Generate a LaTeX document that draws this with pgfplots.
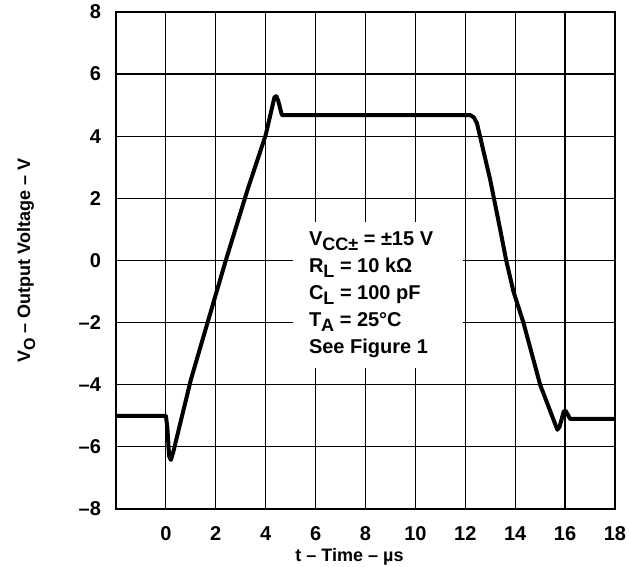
\documentclass[border=0pt]{standalone}
\usepackage{fontspec}
\setmainfont{Liberation Sans}
\usepackage{pgfplots}
\pgfplotsset{compat=1.18}

% lowered subscript as in the datasheet
\newcommand{\sub}[1]{\raisebox{-0.5ex}{\fontsize{9}{9}\selectfont #1}}

\begin{document}
\begin{tikzpicture}
\begin{axis}[
    scale only axis,
    width=249.5pt, height=248.5pt,
    xmin=-2, xmax=18, ymin=-8, ymax=8,
    xtick={0,2,...,18},
    ytick={-8,-6,...,8},
    xticklabels={0,2,4,6,8,10,12,14,16,18},
    yticklabels={–8,–6,–4,–2,0,2,4,6,8},
    major tick length=0pt,
    grid=major,
    major grid style={black, line width=0.6pt},
    axis line style={line width=1.4pt},
    ticklabel style={font=\bfseries\fontsize{10}{11}\selectfont},
    yticklabel style={xshift=-4pt},
    xticklabel style={yshift=-5pt, text height=7.4pt, text depth=0pt},
    xlabel={\bfseries t – Time – µs},
    ylabel={\bfseries V\raisebox{-0.5ex}{\fontsize{8}{8}\selectfont O} – Output Voltage – V},
    label style={font=\bfseries\fontsize{9}{10}\selectfont},
    xlabel style={at={(axis description cs:0.5,0)}, anchor=center, yshift=-24pt, xshift=-8pt},
    ylabel style={at={(axis description cs:-0.18,0.5)}, anchor=center},
]
\fill[white] (axis cs:5.1,-3.45) rectangle (axis cs:11.9,1.25);
\node[anchor=north west, align=left, inner sep=0pt,
      font=\bfseries\fontsize{10}{13.5}\selectfont]
  at (axis cs:5.72,0.95) {%
  V\sub{CC±} = ±15 V\\
  R\sub{L} = 10 kΩ\\
  C\sub{L} = 100 pF\\
  T\sub{A} = 25°C\\
  See Figure 1};

\addplot[black, line width=2pt, line join=round, line cap=round] coordinates {
  (-2,-5.0) (0.0,-5.0) (0.06,-5.4) (0.13,-6.3) (0.2,-6.42) (0.3,-6.15)
  (1.0,-3.84) (1.67,-2.0) (2.4,0) (3.27,2.27) (4.0,4.04) (4.35,5.25)
  (4.42,5.29) (4.5,5.15) (4.65,4.68) (12.2,4.68) (12.35,4.6) (12.47,4.41)
  (13.0,2.59) (13.4,0.99) (13.64,0) (13.93,-1.0) (14.33,-2.0) (15.0,-4.0)
  (15.69,-5.45) (15.78,-5.35) (15.95,-4.85) (16.03,-4.85) (16.2,-5.1) (18,-5.1)
};
\end{axis}
\pgfresetboundingbox
\path (-58pt,-29pt) rectangle (256.5pt,254.5pt);
\end{tikzpicture}
\end{document}
